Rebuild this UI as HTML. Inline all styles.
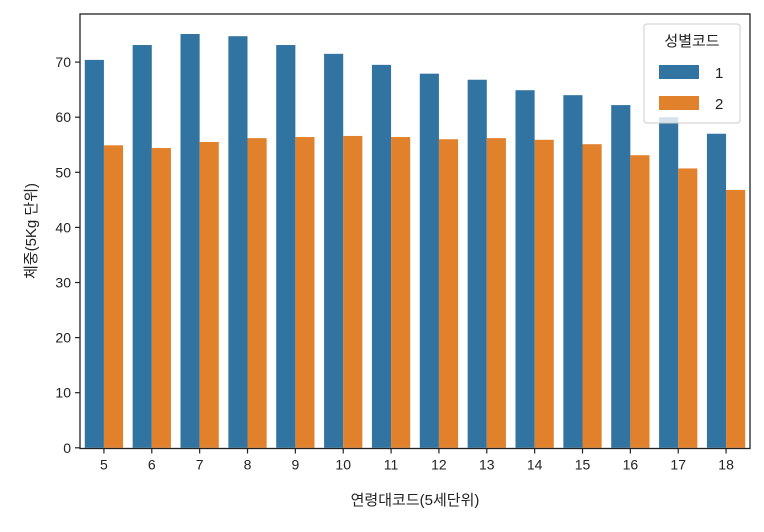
<!DOCTYPE html>
<html><head><meta charset="utf-8"><style>
body{margin:0;background:#fff}
svg text{font-family:"Liberation Sans","Noto Sans CJK KR",sans-serif;fill:#222}
</style></head><body>
<svg id="c" width="764" height="527"></svg>
<script>
const categories=["5","6","7","8","9","10","11","12","13","14","15","16","17","18"];
const male=[70.4,73.1,75.1,74.7,73.1,71.5,69.5,67.9,66.8,64.9,64.0,62.2,60.0,57.0];
const female=[54.9,54.4,55.5,56.2,56.4,56.6,56.4,56.0,56.2,55.9,55.1,53.1,50.7,46.8];
const yTicks=[0,10,20,30,40,50,60,70];
const NS="http://www.w3.org/2000/svg";
const svg=document.getElementById('c');
const L=80,R=750,T=14,B=448.5;
const y0=447.8,ppu=5.51;
const ys=v=>y0-v*ppu;
const gw=(R-L)/categories.length;
const xs=i=>L+gw*(i+0.5);
const bw=gw*0.4;
function mk(tag,attrs,parent){const e=document.createElementNS(NS,tag);for(const k in attrs)e.setAttribute(k,attrs[k]);(parent||svg).appendChild(e);return e;}
categories.forEach((c,i)=>{
  const cx=xs(i);
  let b=mk('rect',{x:cx-bw,y:ys(male[i]),width:bw,height:ys(0)-ys(male[i]),fill:'#3274a1'});
  
  
  let o=mk('rect',{x:cx,y:ys(female[i]),width:bw,height:ys(0)-ys(female[i]),fill:'#e1812c'});
  
  
  mk('line',{x1:cx,x2:cx,y1:B,y2:B+5,stroke:'#222','stroke-width':1.2});
  let t=mk('text',{x:cx,y:B+21,'text-anchor':'middle','font-size':14});
  t.textContent=c;
  
  
});
yTicks.forEach(v=>{
  const y=ys(v);
  mk('line',{x1:L-5,x2:L,y1:y,y2:y,stroke:'#222','stroke-width':1.2});
  let t=mk('text',{x:L-9,y:y+5,'text-anchor':'end','font-size':14});
  t.textContent=v;
  
  
});
let f=mk('rect',{x:L,y:T,width:R-L,height:B-T,fill:'none',stroke:'#222','stroke-width':1.3});


let xl=mk('text',{x:(L+R)/2,y:505,'text-anchor':'middle','font-size':15});
xl.textContent='연령대코드(5세단위)';


let yl=mk('text',{x:0,y:0,'text-anchor':'middle','font-size':15,transform:'translate(36,231) rotate(-90)'});
yl.textContent='체중(5Kg 단위)';


// legend
let lg=mk('g',{});


mk('rect',{x:644,y:24,width:96,height:99,rx:3,fill:'#fff','fill-opacity':0.8,stroke:'#ccc'},lg);
let lt=mk('text',{x:692,y:46,'text-anchor':'middle','font-size':15},lg);
lt.textContent='성별코드';
[['1','#3274a1',65],['2','#e1812c',96]].forEach(([lab,col,y])=>{
  let e=mk('g',{},lg);
  
  
  mk('rect',{x:659,y:y,width:40,height:14,fill:col},e);
  let t=mk('text',{x:715,y:y+13,'font-size':15},e);t.textContent=lab;
});
</script>
</body></html>
